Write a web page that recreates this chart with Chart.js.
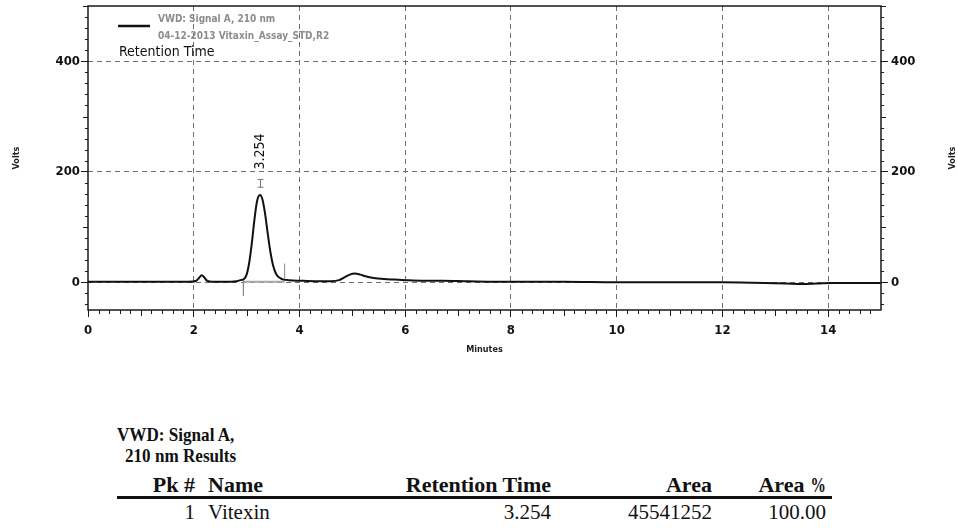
<!DOCTYPE html>
<html>
<head>
<meta charset="utf-8">
<script src="https://cdn.jsdelivr.net/npm/chart.js@4.4.1/dist/chart.umd.min.js"></script>
<style>
  body { margin: 0; background: #fff; width: 958px; height: 529px; overflow: hidden; position: relative; }
  #wrap { position: absolute; left: 0; top: 0; width: 958px; height: 370px; }
  .t { position: absolute; white-space: nowrap; line-height: 1; color: #111; font-family: "Liberation Serif", "Times New Roman", serif; font-size: 21px; }
  .b { font-weight: bold; font-size: 22px; }
  .tit { font-weight: bold; font-size: 19px; transform: scaleX(0.9); transform-origin: left center; }
  .pct { display: inline-block; transform: scaleX(0.7); transform-origin: right center; margin-left: -6px; }
  #rule { position: absolute; left: 117px; width: 715px; top: 496px; height: 3px; background: #111; }
</style>
</head>
<body>
<div id="wrap"><canvas id="c" width="958" height="370"></canvas></div>
<script>
const timeMin = [0, 0.5, 1.0, 1.5, 1.9, 2.05, 2.10, 2.15, 2.20, 2.25, 2.35, 2.6, 2.8, 2.88, 2.95,
  3.00, 3.05, 3.10, 3.15, 3.20, 3.254, 3.30, 3.35, 3.40, 3.45, 3.50, 3.55, 3.60, 3.65, 3.70, 3.80,
  4.0, 4.3, 4.6, 4.75, 4.85, 4.95, 5.05, 5.15, 5.25, 5.4, 5.6, 5.8, 6.0, 6.3, 6.7, 7.2, 8.0, 9.0,
  10.0, 11.0, 12.0, 12.8, 13.2, 13.5, 13.8, 14.1, 14.5, 15.0];
const signalV = [1, 1, 1, 1, 1, 3, 8, 13, 9, 3, 1, 1, 2, 4, 6,
  14, 36, 72, 115, 148, 158, 150, 124, 88, 55, 31, 17, 10, 7, 5, 4,
  3, 2, 2, 4, 9, 14, 16, 14, 11, 8, 6, 5, 4, 3, 3, 2, 1, 1,
  0, 0, 0, -1, -2, -3, -2, -1, -1, -1];

const xMajorTicks = [0, 2, 4, 6, 8, 10, 12, 14];
const yMajorTicks = [0, 200, 400];

// pico integrado
const peakRT = 3.254;
const peakTop = 158;
const baseStartMin = 2.94;
const baseEndMin = 3.72;

// tabela de resultados
const colunas = ["Pk #", "Name", "Retention Time", "Area", "Area %"];
const pkNum = [1];
const pkNome = ["Vitexin"];
const pkTempo = ["3.254"];
const pkArea = ["45541252"];
const pkAreaPct = ["100.00"];

const FONTE = '"Liberation Sans Narrow", "DejaVu Sans Condensed", "Liberation Sans", sans-serif';

const pts = (xs, ys) => xs.map((x, i) => ({ x, y: ys[i] }));

const enfeites = {
  id: "enfeites",
  afterDraw(chart) {
    const { ctx, chartArea: a, scales: { x, y } } = chart;
    ctx.save();
    // moldura
    ctx.strokeStyle = "#1a1a1a";
    ctx.lineWidth = 1.5;
    ctx.strokeRect(a.left, a.top, a.right - a.left, a.bottom - a.top);

    // ticks menores
    ctx.lineWidth = 1;
    ctx.beginPath();
    for (let i = 1; i < 75; i++) {
      if (i % 10 === 0) continue;
      const len = i % 5 === 0 ? 6 : 4;
      const px = Math.round(x.getPixelForValue(i * 0.2)) + 0.5;
      ctx.moveTo(px, a.bottom);
      ctx.lineTo(px, a.bottom + len);
    }
    for (let v = -40; v <= 500; v += 20) {
      if (v % 200 === 0) continue;
      const len = v % 100 === 0 ? 5 : 3;
      const py = Math.round(y.getPixelForValue(v)) + 0.5;
      ctx.moveTo(a.left - len, py); ctx.lineTo(a.left, py);
      ctx.moveTo(a.right, py); ctx.lineTo(a.right + len, py);
    }
    ctx.stroke();

    // títulos dos eixos
    const meioY = (a.top + a.bottom) / 2;
    ctx.fillStyle = "#222";
    ctx.font = "bold 9px " + FONTE;
    ctx.textAlign = "center";
    ctx.textBaseline = "middle";
    ctx.fillText("Minutes", (a.left + a.right) / 2, 350);
    [17, 953].forEach((tx) => {
      ctx.save();
      ctx.translate(tx, meioY);
      ctx.rotate(-Math.PI / 2);
      ctx.fillText("Volts", 0, 0);
      ctx.restore();
    });

    // legenda
    ctx.strokeStyle = "#111";
    ctx.lineWidth = 2.5;
    ctx.beginPath();
    ctx.moveTo(118, 26); ctx.lineTo(150, 26);
    ctx.stroke();
    ctx.textAlign = "left";
    ctx.fillStyle = "#8c8c8c";
    ctx.font = "bold 10px " + FONTE;
    ctx.fillText("VWD: Signal A, 210 nm", 158, 19);
    ctx.fillText("04-12-2013 Vitaxin_Assay_STD,R2", 158, 36);
    ctx.fillStyle = "#111";
    ctx.font = "14px " + FONTE;
    ctx.fillText("Retention Time", 119, 52);

    // marcador e rótulo do pico
    const px = Math.round(x.getPixelForValue(peakRT)) + 0.5;
    const y1 = y.getPixelForValue(peakTop + 14);
    const y2 = y.getPixelForValue(peakTop + 28);
    ctx.strokeStyle = "#777";
    ctx.lineWidth = 1;
    ctx.beginPath();
    ctx.moveTo(px, y1); ctx.lineTo(px, y2);
    ctx.moveTo(px - 3, y1); ctx.lineTo(px + 3, y1);
    ctx.moveTo(px - 3, y2); ctx.lineTo(px + 3, y2);
    ctx.stroke();
    ctx.save();
    ctx.translate(px, y.getPixelForValue(peakTop + 46));
    ctx.rotate(-Math.PI / 2);
    ctx.fillStyle = "#111";
    ctx.font = "14px " + FONTE;
    ctx.textAlign = "left";
    ctx.textBaseline = "middle";
    ctx.fillText(peakRT.toFixed(3), 0, 0);
    ctx.restore();
    ctx.restore();
  },
};

const ticksFonte = { family: FONTE, size: 13, weight: "bold" };
const semPadVert = (s, w) => { s.width = w; s.paddingTop = 0; s.paddingBottom = 0; };

new Chart(document.getElementById("c"), {
  type: "line",
  data: {
    datasets: [
      { data: pts(timeMin, signalV), borderColor: "#111", borderWidth: 2,
        pointRadius: 0, cubicInterpolationMode: "monotone" },
      { data: pts([baseStartMin, baseEndMin], [1, 1]), borderColor: "#a8a8a8", borderWidth: 2, pointRadius: 0 },
      { data: pts([baseStartMin, baseStartMin], [4, -24]), borderColor: "#888", borderWidth: 1, pointRadius: 0 },
      { data: pts([baseEndMin, baseEndMin], [3, 34]), borderColor: "#888", borderWidth: 1, pointRadius: 0 },
    ],
  },
  options: {
    responsive: false,
    animation: false,
    devicePixelRatio: 1,
    parsing: false,
    layout: { padding: { top: 6, left: 0, right: 0, bottom: 0 } },
    plugins: { legend: { display: false }, tooltip: { enabled: false } },
    scales: {
      x: {
        type: "linear", min: 0, max: 15,
        afterBuildTicks: (s) => { s.ticks = xMajorTicks.map((v) => ({ value: v })); },
        afterFit: (s) => { s.height = 60; },
        border: { display: false, dash: [5, 4] },
        grid: {
          color: (c) => (c.tick && c.tick.value === 0 ? "rgba(0,0,0,0)" : "#6e6e6e"),
          tickColor: "#1a1a1a", tickLength: 7, tickWidth: 1,
        },
        ticks: { font: ticksFonte, color: "#111", padding: 6, maxRotation: 0 },
      },
      y: {
        type: "linear", position: "left", min: -50, max: 500,
        afterBuildTicks: (s) => { s.ticks = yMajorTicks.map((v) => ({ value: v })); },
        afterFit: (s) => semPadVert(s, 88),
        border: { display: false, dash: [5, 4] },
        grid: { color: "#6e6e6e", tickColor: "#1a1a1a", tickLength: 7, tickWidth: 1 },
        ticks: { font: ticksFonte, color: "#111", padding: 1 },
      },
      y2: {
        type: "linear", position: "right", min: -50, max: 500,
        afterBuildTicks: (s) => { s.ticks = yMajorTicks.map((v) => ({ value: v })); },
        afterFit: (s) => semPadVert(s, 77),
        border: { display: false },
        grid: { drawOnChartArea: false, tickColor: "#1a1a1a", tickLength: 7, tickWidth: 1 },
        ticks: { font: ticksFonte, color: "#111", padding: 3 },
      },
    },
  },
  plugins: [enfeites],
});

// tabela abaixo do gráfico
function texto(s, estilo, classe) {
  const d = document.createElement("div");
  d.className = "t " + classe;
  d.textContent = s;
  Object.assign(d.style, estilo);
  document.body.appendChild(d);
  return d;
}
texto("VWD: Signal A,", { left: "117px", top: "425px" }, "tit");
texto("210 nm Results", { left: "125px", top: "446px" }, "tit");
const dirCol = [195, null, 551, 712, 826];
const posCol = (i) => (dirCol[i] === null ? { left: "208px" } : { right: (958 - dirCol[i]) + "px" });
colunas.forEach((c, i) => {
  const d = texto(c, Object.assign({ top: "474px" }, posCol(i)), "b");
  if (c.endsWith(" %")) {
    // o "%" do laudo é bem estreito
    d.textContent = c.slice(0, -1);
    const s = document.createElement("span");
    s.className = "pct";
    s.textContent = "%";
    d.appendChild(s);
  }
});
const linha = [pkNum[0], pkNome[0], pkTempo[0], pkArea[0], pkAreaPct[0]];
linha.forEach((v, i) => texto(String(v), Object.assign({ top: "502px" }, posCol(i)), ""));
const r = document.createElement("div");
r.id = "rule";
document.body.appendChild(r);
</script>
</body>
</html>
